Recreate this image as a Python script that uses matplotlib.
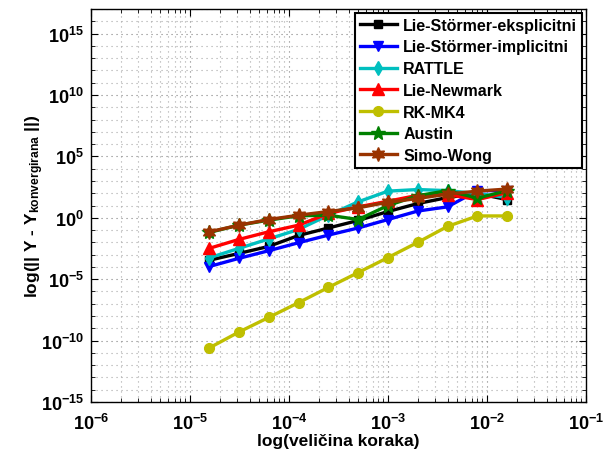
import numpy as np
import matplotlib
matplotlib.use("Agg")
import matplotlib.pyplot as plt
from matplotlib.ticker import LogLocator, NullFormatter

plt.rcParams['font.family'] = ['Liberation Sans', 'DejaVu Sans']
plt.rcParams['font.weight'] = 'bold'
plt.rcParams['mathtext.fontset'] = 'custom'
plt.rcParams['mathtext.rm'] = 'Liberation Sans:bold'
plt.rcParams['mathtext.it'] = 'Liberation Sans:bold'
plt.rcParams['mathtext.bf'] = 'Liberation Sans:bold'
plt.rcParams['mathtext.default'] = 'bf'

# step sizes
h = [1.5625e-5, 3.125e-5, 6.25e-5, 1.25e-4, 2.5e-4, 5e-4, 1e-3, 2e-3, 4e-3, 8e-3, 1.6e-2]

# log10 of errors
ls_eks = [-3.46, -2.9, -2.33, -1.44, -0.83, -0.22, 0.51, 1.16, 1.65, 1.97, 1.48]
ls_imp = [-3.97, -3.3, -2.68, -2.03, -1.41, -0.83, -0.14, 0.55, 0.89, 2.21, 2.21]
rattle = [-3.26, -2.49, -1.72, -0.95, 0.21, 1.3, 2.17, 2.3, 2.21, 1.97, 1.65]
newmark = [-2.49, -1.76, -1.14, -0.6, 0.35, 0.89, 1.35, 1.83, 1.89, 1.48, 2.05]
rkmk4 = [-10.6, -9.3, -8.11, -6.91, -5.67, -4.46, -3.24, -2.0, -0.7, 0.15, 0.15]
austin = [-1.19, -0.6, -0.19, 0.16, 0.21, -0.14, 1.0, 1.8, 2.21, 1.6, 2.21]
simo = [-1.15, -0.6, -0.14, 0.21, 0.51, 0.81, 1.27, 1.57, 1.93, 2.17, 2.34]

labels = ['Lie-Störmer-eksplicitni', 'Lie-Störmer-implicitni', 'RATTLE',
          'Lie-Newmark', 'RK-MK4', 'Austin', 'Simo-Wong']
series = [ls_eks, ls_imp, rattle, newmark, rkmk4, austin, simo]
colors = ['#000000', '#0000ff', '#00bfbf', '#ff0000', '#bfbf00', '#008000', '#993300']
markers = ['s', 'v', 'd', '^', 'o', '*', (6, 1, 0)]
msizes = [6, 7, 7, 8, 7, 10, 10]

fig = plt.figure(figsize=(6.08, 4.52), dpi=100)
ax = fig.add_axes([91/608, 1-403/452, (586-91)/608, (403-10)/452])

for vals, lab, c, m, ms in zip(series, labels, colors, markers, msizes):
    ax.plot(h, 10.0**np.array(vals), color=c, marker=m, markersize=ms,
            linewidth=2.4, label=lab, markeredgecolor=c, markerfacecolor=c)

ax.set_xscale('log')
ax.set_yscale('log')
ax.set_xlim(1e-6, 1e-1)
ax.set_ylim(1e-15, 1e17)
ax.xaxis.set_major_locator(LogLocator(base=10, numticks=20))
ax.xaxis.set_minor_locator(LogLocator(base=10, subs=np.arange(2, 10), numticks=20))
ax.set_yticks([10.0**k for k in range(-15, 16, 5)])
ax.yaxis.set_minor_locator(LogLocator(base=10, subs=[1.0], numticks=40))
ax.xaxis.set_minor_formatter(NullFormatter())
ax.yaxis.set_minor_formatter(NullFormatter())

ax.tick_params(which='both', direction='in', top=True, right=True, labelsize=13)
ax.tick_params(axis='x', which='major', pad=8)
ax.tick_params(axis='y', which='major', pad=5)
ax.tick_params(which='major', length=5, width=0.8)
ax.tick_params(which='minor', length=3, width=0.6)
grid_ls = (0, (1, 3.5))
ax.grid(True, which='major', linestyle=grid_ls, color='#808080', linewidth=0.8)
ax.grid(True, which='minor', linestyle=grid_ls, color='#a8a8a8', linewidth=0.8)
ax.set_axisbelow(True)
for s in ax.spines.values():
    s.set_linewidth(1.0)

ax.set_xlabel('log(veličina koraka)', fontsize=12.5, fontweight='bold', labelpad=0)
ax.set_ylabel(r'log(|| Y - Y$_{\mathbf{konvergirana}}$ ||)', fontsize=12.5,
              fontweight='bold', labelpad=-4)

leg = ax.legend(loc='upper right', fontsize=11.5, frameon=True, fancybox=False,
                edgecolor='black', framealpha=1, borderpad=0.3, labelspacing=0.42,
                handlelength=2.3, handletextpad=0.4, borderaxespad=0.25)
leg.get_frame().set_linewidth(1.5)
for t in leg.get_texts():
    t.set_fontweight('bold')

fig.savefig('out.png', dpi=100)
